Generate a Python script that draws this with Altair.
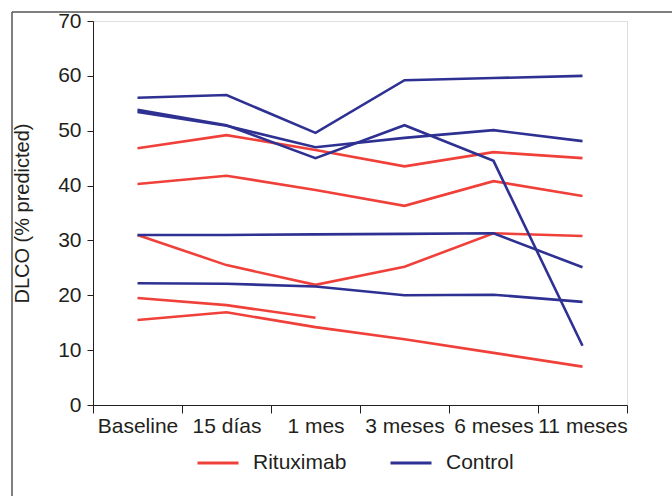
import altair as alt
import pandas as pd

times = ["Baseline", "15 días", "1 mes", "3 meses", "6 meses", "11 meses"]

# Rituximab patients
rit_1 = [46.8, 49.2, 46.5, 43.5, 46.1, 45.0]
rit_2 = [40.3, 41.8, 39.2, 36.3, 40.8, 38.1]
rit_3 = [31.0, 25.5, 21.9, 25.2, 31.3, 30.8]
rit_4 = [19.5, 18.2, 15.9]
rit_5 = [15.5, 16.9, 14.2, 12.0, 9.5, 7.0]

# Control patients
ctl_1 = [56.0, 56.5, 49.6, 59.2, 59.6, 60.0]
ctl_2 = [53.8, 51.0, 45.0, 51.0, 44.5, 10.8]
ctl_3 = [53.4, 50.9, 47.0, 48.7, 50.1, 48.1]
ctl_4 = [31.0, 31.0, 31.1, 31.2, 31.3, 25.1]
ctl_5 = [22.2, 22.1, 21.6, 20.0, 20.1, 18.8]

groups = ["Rituximab", "Control"]
colors = ["#F0403A", "#2E3192"]

series = {
    ("Rituximab", "r1"): rit_1, ("Rituximab", "r2"): rit_2,
    ("Rituximab", "r3"): rit_3, ("Rituximab", "r4"): rit_4,
    ("Rituximab", "r5"): rit_5,
    ("Control", "c1"): ctl_1, ("Control", "c2"): ctl_2,
    ("Control", "c3"): ctl_3, ("Control", "c4"): ctl_4,
    ("Control", "c5"): ctl_5,
}
rows = []
for (g, sid), vals in series.items():
    for t, v in zip(times, vals):
        rows.append({"group": g, "id": sid, "time": t, "value": v})
df = pd.DataFrame(rows)

FONT = "Liberation Sans"

lines = alt.Chart(df).mark_line(strokeWidth=2.6).encode(
    x=alt.X("time:N", sort=times, title=None,
            scale=alt.Scale(type="band", domain=times, paddingInner=0, paddingOuter=0),
            axis=alt.Axis(tickBand="extent", labelAngle=0, labelFontSize=21,
                          labelFont=FONT, labelColor="#231F20", tickColor="#231F20",
                          domainColor="#231F20", tickSize=8, labelPadding=2,
                          grid=False, labelOverlap=False)),
    y=alt.Y("value:Q", title="DLCO (% predicted)",
            scale=alt.Scale(domain=[0, 70], nice=False),
            axis=alt.Axis(values=[0, 10, 20, 30, 40, 50, 60, 70], grid=False,
                          labelFontSize=21, labelFont=FONT, labelColor="#231F20",
                          tickColor="#231F20", domainColor="#231F20", tickSize=6,
                          labelPadding=6, titleFontSize=20, titleFont=FONT,
                          titleFontWeight="normal", titleColor="#231F20",
                          titlePadding=25)),
    color=alt.Color("group:N", scale=alt.Scale(domain=groups, range=colors),
                    legend=alt.Legend(title=None, orient="none", direction="horizontal",
                                      legendX=103, legendY=420,
                                      symbolType="stroke", symbolSize=1681,
                                      symbolStrokeWidth=3, labelFontSize=21,
                                      labelFont=FONT, labelColor="#231F20",
                                      labelOffset=13, columnPadding=37)),
    detail="id:N",
)

frame_df = pd.DataFrame({"k": [0]})
frame_v = alt.Chart(frame_df).mark_rule(color="#555555", strokeWidth=1.5).encode(
    x=alt.value(-81), y=alt.value(-9), y2=alt.value(500))
frame_h = alt.Chart(frame_df).mark_rule(color="#555555", strokeWidth=1.5).encode(
    x=alt.value(-81), x2=alt.value(600), y=alt.value(-9))

chart = alt.layer(frame_v, frame_h, lines).properties(
    width=534, height=384,
    autosize=alt.AutoSizeParams(type="none"),
    padding={"left": 93, "top": 21, "right": 45, "bottom": 91},
).configure_view(stroke=None).configure(background="white")

chart.save("out.html", embed_options={"renderer": "svg", "actions": False})
